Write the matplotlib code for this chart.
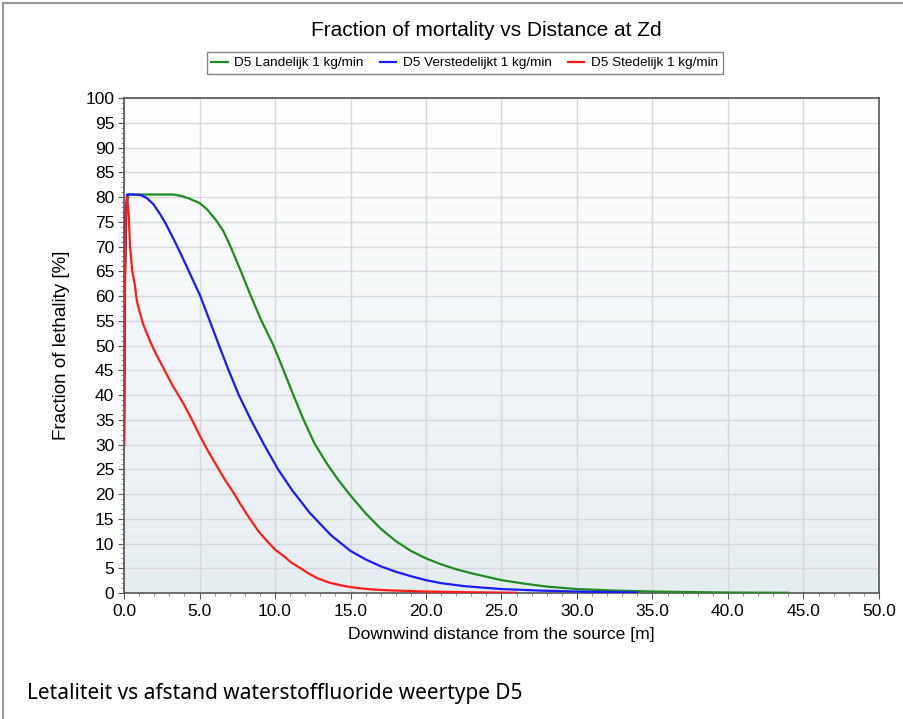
import numpy as np
import matplotlib.pyplot as plt
from matplotlib.lines import Line2D
from matplotlib.colors import LinearSegmentedColormap

plt.rcParams['font.family'] = ['Liberation Sans', 'DejaVu Sans']

#####################################
# data

land_x = [0.0, 0.05, 0.15, 0.3, 1.0, 2.0, 3.3, 3.8, 4.3, 5.0, 5.5, 6.1, 6.6, 7.05, 7.7,
          8.4, 9.1, 9.9, 10.5, 11.15, 11.85, 12.6, 13.4, 14.2, 15.0, 16.0, 17.0, 18.0,
          19.0, 20.0, 21.0, 22.0, 23.0, 24.0, 25.0, 26.5, 28.0, 30.0, 32.5, 35.0, 37.5,
          40.0, 44.0]
land_y = [30, 60, 78, 80.5, 80.5, 80.5, 80.5, 80.2, 79.7, 78.8, 77.5, 75.3, 73, 70, 65.3,
          60, 55, 50, 45.5, 40.5, 35.3, 30.3, 26.3, 22.8, 19.7, 16.1, 13.0, 10.5,
          8.5, 7.0, 5.8, 4.8, 4.0, 3.3, 2.6, 1.9, 1.3, 0.8, 0.5, 0.3, 0.2,
          0.1, 0.05]

verst_x = [0.0, 0.05, 0.1, 0.2, 0.6, 1.1, 1.5, 1.93, 2.4, 2.8, 3.4, 3.9, 4.37, 5.05,
           5.65, 6.27, 6.9, 7.6, 8.4, 9.27, 10.2, 11.15, 12.3, 13.7, 15.0, 16.0, 17.0,
           18.0, 19.0, 20.0, 21.0, 22.5, 25.0, 27.5, 30.0, 34.0]
verst_y = [30, 62, 76, 80.5, 80.5, 80.4, 79.8, 78.6, 76.5, 74.4, 70.8, 67.6, 64.5, 60,
           55.2, 50.2, 45.2, 40, 35, 30, 25, 20.7, 16.2, 11.7, 8.5, 6.8, 5.4,
           4.3, 3.4, 2.6, 2.0, 1.4, 0.8, 0.5, 0.3, 0.1]

sted_x = [0.0, 0.05, 0.1, 0.2, 0.3, 0.4, 0.55, 0.73, 0.85, 1.02, 1.25, 1.5, 2.0, 2.6,
          3.2, 3.95, 4.5, 5.05, 5.6, 6.16, 6.7, 7.27, 7.8, 8.38, 8.9, 9.5, 10.0, 10.6,
          11.1, 11.7, 12.2, 12.8, 13.6, 14.6, 15.5, 16.5, 17.5, 20.0, 23.0, 26.0]
sted_y = [30, 60, 74, 80, 77, 70, 65, 62, 59, 57, 54.5, 52.5, 49, 45.5,
          42, 38.2, 35, 31.6, 28.5, 25.6, 22.8, 20.2, 17.5, 14.8, 12.5, 10.4, 8.8, 7.4,
          6.1, 5.0, 4.0, 3.0, 2.1, 1.4, 1.0, 0.7, 0.55, 0.3, 0.15, 0.05]

labels = ['D5 Landelijk 1 kg/min', 'D5 Verstedelijkt 1 kg/min', 'D5 Stedelijk 1 kg/min']
colors = ['#1f8a1f', '#1a1aff', '#ff1a1a']

#####################################

fig = plt.figure(figsize=(9.04, 7.19), dpi=100)
ax = fig.add_axes([0.1372, 0.1752, 0.8351, 0.6885])

# gradient background
grad = np.linspace(0, 1, 256).reshape(-1, 1)
bg = LinearSegmentedColormap.from_list('bg', ['#ffffff', '#e6edf1'])
ax.imshow(grad, extent=[0, 50, 0, 100], aspect='auto', origin='upper', cmap=bg, zorder=0)

for xs, ys, lab, c in zip([land_x, verst_x, sted_x], [land_y, verst_y, sted_y], labels, colors):
    ax.plot(xs, ys, color=c, lw=1.6, label=lab, zorder=3, solid_joinstyle='round')

ax.set_xlim(0, 50)
ax.set_ylim(0, 100)
ax.set_xticks(np.arange(0, 50.1, 5))
ax.set_xticklabels(['%.1f' % v for v in np.arange(0, 50.1, 5)])
ax.set_yticks(np.arange(0, 101, 5))
ax.set_xticks(np.arange(0, 50.1, 1), minor=True)
ax.set_yticks(np.arange(0, 101, 1), minor=True)
ax.tick_params(axis='both', which='major', labelsize=12.5, length=4, color='#555555', pad=3)
ax.tick_params(axis='x', which='major', pad=4)
ax.tick_params(axis='both', which='minor', length=2, color='#777777')
ax.grid(True, which='major', color='#d4d8dc', lw=1.0, zorder=1)
ax.set_axisbelow(True)
for s in ax.spines.values():
    s.set_color('#555555')
    s.set_linewidth(1.2)

ax.set_xlabel('Downwind distance from the source [m]', fontsize=12.6, labelpad=6)
ax.set_ylabel('Fraction of lethality [%]', fontsize=13.5, labelpad=11)

fig.text(0.5376, 0.957, 'Fraction of mortality vs Distance at Zd', ha='center', va='center', fontsize=15)

leg = fig.legend(loc='center', bbox_to_anchor=(0.514, 0.912), ncol=3, fontsize=9.7,
                 frameon=True, fancybox=False, edgecolor='#666666', handlelength=1.2,
                 columnspacing=1.2, handletextpad=0.5, borderpad=0.35)
leg.get_frame().set_linewidth(1.0)

fig.text(0.03, 0.036, 'Letaliteit vs afstand waterstoffluoride weertype D5',
         ha='left', va='center', fontsize=15, family=['Noto Sans', 'DejaVu Sans'])

# page frame lines
fig.add_artist(Line2D([0.003, 0.003], [0, 0.996], color='#999999', lw=1.5))
fig.add_artist(Line2D([0.003, 1], [0.996, 0.996], color='#999999', lw=1.5))

fig.savefig('out.png', dpi=100)
